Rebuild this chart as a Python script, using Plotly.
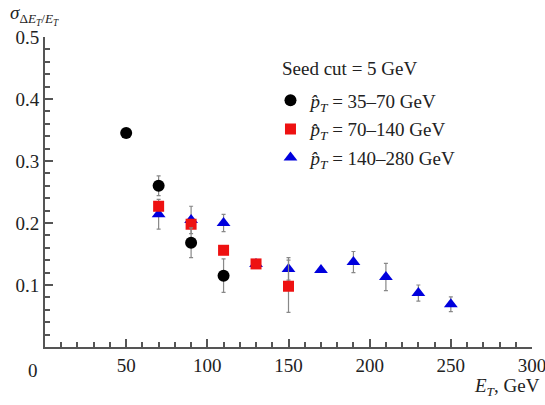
import plotly.graph_objects as go

# Data
x_black = [50, 70, 90, 110]
y_black = [0.345, 0.260, 0.168, 0.115]
e_black = [0.0, 0.016, 0.024, 0.027]

x_red = [70, 90, 110, 130, 150]
y_red = [0.227, 0.198, 0.156, 0.134, 0.098]
e_red = [0.0, 0.0, 0.0, 0.0, 0.042]

x_blue = [70, 90, 110, 130, 150, 170, 190, 210, 230, 250]
y_blue = [0.214, 0.205, 0.200, 0.134, 0.126, 0.124, 0.137, 0.113, 0.087, 0.069]
e_blue = [0.024, 0.022, 0.014, 0.0, 0.018, 0.0, 0.017, 0.022, 0.013, 0.012]

names = ["<i>p̂</i><sub><i>T</i></sub> = 35–70 GeV",
         "<i>p̂</i><sub><i>T</i></sub> = 70–140 GeV",
         "<i>p̂</i><sub><i>T</i></sub> = 140–280 GeV"]

x_ticks = [50, 100, 150, 200, 250, 300]
y_ticks = [0.1, 0.2, 0.3, 0.4, 0.5]

FONT = "Liberation Serif, Times New Roman, serif"
AX = "#555555"
FS = 19

fig = go.Figure()

def err(arr):
    return dict(type="data", array=arr, visible=True, color="#888888", thickness=1.2, width=2)

fig.add_trace(go.Scatter(x=x_blue, y=y_blue, mode="markers", name=names[2], legendgroup="c",
                         legendrank=3,
                         marker=dict(symbol="triangle-up", size=12, color="#0000dd"),
                         error_y=err(e_blue)))
fig.add_trace(go.Scatter(x=x_red, y=y_red, mode="markers", name=names[1], legendgroup="b",
                         legendrank=2,
                         marker=dict(symbol="square", size=11, color="#ee1111"),
                         error_y=err(e_red)))
fig.add_trace(go.Scatter(x=x_black, y=y_black, mode="markers", name=names[0], legendgroup="a",
                         legendrank=1,
                         marker=dict(symbol="circle", size=12, color="#000000"),
                         error_y=err(e_black)))

fig.update_layout(
    width=545, height=405,
    margin=dict(l=45, r=13, t=37, b=58),
    paper_bgcolor="white", plot_bgcolor="white",
    font=dict(family=FONT, size=FS, color="#222222"),
    showlegend=True,
    legend=dict(x=0.463, y=0.857, xanchor="left", yanchor="top",
                traceorder="grouped", tracegroupgap=1,
                font=dict(size=FS, family=FONT), bgcolor="rgba(0,0,0,0)",
                itemwidth=30),
    xaxis=dict(range=[0, 300], showgrid=False, zeroline=False, automargin=False,
               showline=True, linecolor=AX, linewidth=2, ticklabeloverflow="allow",
               ticks="inside", ticklen=8, tickwidth=1.5, tickcolor=AX,
               tickvals=x_ticks, ticktext=[str(v) for v in x_ticks],
               minor=dict(dtick=10, ticks="inside", ticklen=5, tickwidth=1.5, tickcolor=AX),
               tickfont=dict(size=FS, family=FONT)),
    yaxis=dict(range=[0, 0.5], showgrid=False, zeroline=False, automargin=False,
               showline=True, linecolor=AX, linewidth=2, ticklabeloverflow="allow",
               ticks="inside", ticklen=8, tickwidth=1.5, tickcolor=AX,
               tickvals=y_ticks, ticktext=["%.1f" % v for v in y_ticks],
               minor=dict(dtick=0.02, ticks="inside", ticklen=5, tickwidth=1.5, tickcolor=AX),
               tickfont=dict(size=FS, family=FONT)),
    annotations=[
        dict(text="Seed cut = 5 GeV", x=(280 - 45) / 486, y=(347 - 68) / 310,
             xref="paper", yref="paper", xanchor="left", yanchor="middle",
             showarrow=False, font=dict(size=FS, family=FONT)),
        dict(text="0", x=-0.025, y=-0.035, xref="paper", yref="paper",
             xanchor="center", yanchor="top", showarrow=False,
             font=dict(size=FS, family=FONT)),
        dict(text="<i>σ</i><sub>Δ<i>E<sub>T</sub></i>/<i>E<sub>T</sub></i></sub>",
             x=-0.075, y=1.119, xref="paper", yref="paper", showarrow=False,
             xanchor="left", yanchor="top", font=dict(size=FS, family=FONT)),
        dict(text="<i>E<sub>T</sub></i>, GeV", x=1.02, y=-0.128, xref="paper", yref="paper",
             xanchor="right", yanchor="middle", showarrow=False,
             font=dict(size=FS, family=FONT)),
    ],
)

fig.write_html("out.html")
